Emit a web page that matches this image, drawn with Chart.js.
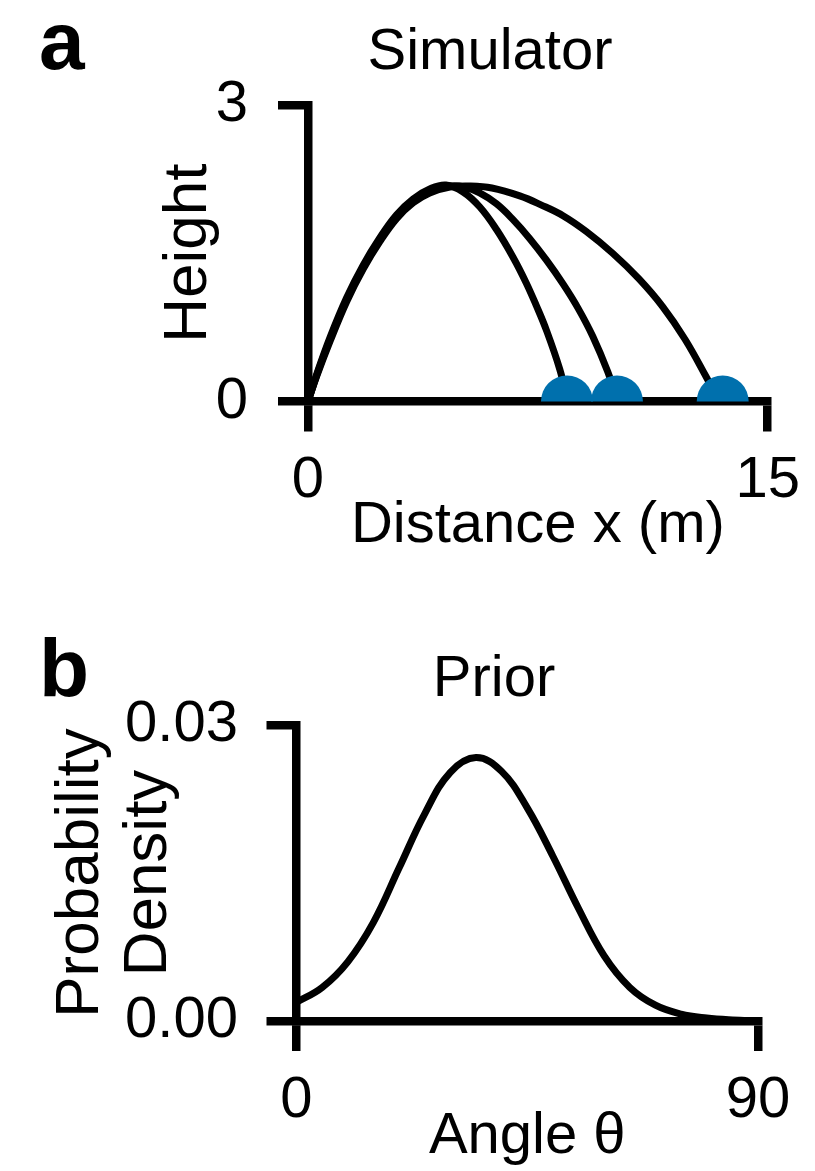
<!DOCTYPE html>
<html>
<head>
<meta charset="utf-8">
<script src="https://cdn.jsdelivr.net/npm/chart.js@4.4.1/dist/chart.umd.min.js"></script>
<style>
  html, body { margin: 0; padding: 0; background: #fff; overflow: hidden; }
  body { width: 815px; height: 1171px; position: relative; font-family: "Liberation Sans", Arial, sans-serif; }
  .box { position: absolute; left: 0; width: 815px; }
  #boxA { top: 0; height: 590px; }
  #boxB { top: 590px; height: 581px; }
  .label { position: absolute; line-height: 1; white-space: nowrap; color: #000; }
  .panel { font-weight: bold; font-size: 82px; }
  .title { font-size: 58px; text-align: center; width: 400px; }
</style>
</head>
<body>
<div class="box" id="boxA"><canvas id="chartA"></canvas></div>
<div class="box" id="boxB"><canvas id="chartB"></canvas></div>
<div class="label panel" style="left:39px; top:0px;">a</div>
<div class="label title" style="left:290px; top:20px;">Simulator</div>
<div class="label panel" style="left:39px; top:627px;">b</div>
<div class="label title" style="left:294px; top:647px;">Prior</div>

<script>
// panel a: simulated throws, distance x (m) vs height
const throw1X = [0, 0.3, 0.72, 1.26, 1.8, 2.35, 2.89, 3.43, 3.97, 4.5, 5.06, 5.6, 6.15, 6.69, 7.12, 7.45, 7.78, 8.21, 8.48];
const throw1Y = [0, 0.29, 0.65, 1.05, 1.38, 1.66, 1.89, 2.05, 2.15, 2.19, 2.12, 1.97, 1.74, 1.46, 1.2, 0.97, 0.72, 0.33, 0];

const throw2X = [0, 0.3, 0.72, 1.26, 1.8, 2.35, 2.89, 3.43, 3.97, 4.63, 5.1, 5.6, 6.15, 6.69, 7.23, 7.78, 8.32, 8.8, 9.29, 9.78, 10.1];
const throw2Y = [0, 0.28, 0.63, 1.03, 1.36, 1.64, 1.87, 2.03, 2.13, 2.18, 2.17, 2.11, 2.0, 1.84, 1.65, 1.43, 1.19, 0.95, 0.66, 0.3, 0];

const throw3X = [0, 0.3, 0.72, 1.26, 1.8, 2.35, 2.89, 3.43, 3.97, 4.63, 5.3, 6.0, 6.91, 7.6, 8.32, 9.08, 9.94, 10.8, 11.57, 12.3, 12.99, 13.42];
const throw3Y = [0, 0.27, 0.61, 1.01, 1.34, 1.62, 1.85, 2.01, 2.11, 2.17, 2.18, 2.16, 2.08, 1.99, 1.88, 1.72, 1.5, 1.24, 0.96, 0.63, 0.25, 0];

// landing spots
const landX = [8.45, 10.08, 13.53];
const landY = [0, 0, 0];

// panel b: prior over angle
const angle = [0, 5, 10, 15, 20, 25, 30, 35, 40, 45, 50, 55, 60, 65, 70, 75, 80, 85, 90];
const density = [0.0019, 0.0034, 0.006, 0.01, 0.0155, 0.021, 0.0252, 0.0267, 0.0253, 0.0216, 0.0167, 0.0114, 0.0066, 0.0034, 0.0016, 0.0007, 0.0003, 0.0001, 0];

Chart.defaults.font.family = '"Liberation Sans", Arial, Helvetica, sans-serif';
Chart.defaults.font.size = 58;
Chart.defaults.color = '#000';

const toPoints = (xs, ys) => xs.map((x, i) => ({ x: x, y: ys[i] }));

function curve(xs, ys) {
    return {
        data: toPoints(xs, ys),
        showLine: true,
        borderColor: '#000',
        borderWidth: 7,
        pointRadius: 0,
        tension: 0.4
    };
}

function axisLook() {
    return {
        z: 1,
        border: { display: true, color: '#000', width: 8.5 },
        grid: {
            drawOnChartArea: false,
            drawTicks: true,
            tickLength: 30,
            tickWidth: 8.5,
            tickColor: '#000',
            color: '#000',
            lineWidth: 8.5
        }
    };
}

const baseOptions = {
    responsive: true,
    maintainAspectRatio: false,
    animation: false,
    events: [],
    plugins: { legend: { display: false }, tooltip: { enabled: false } }
};

new Chart(document.getElementById('chartA'), {
    type: 'scatter',
    data: {
        datasets: [
            {
                data: toPoints(landX, landY),
                pointRadius: 26,
                pointHoverRadius: 26,
                backgroundColor: '#0070ad',
                borderWidth: 0,
                clip: { left: 40, right: 40, top: 40, bottom: 0 }
            },
            curve(throw1X, throw1Y),
            curve(throw2X, throw2Y),
            curve(throw3X, throw3Y)
        ]
    },
    options: {
        ...baseOptions,
        layout: { padding: { top: 105, right: 46.5, bottom: 0, left: 0 } },
        scales: {
            x: {
                ...axisLook(),
                type: 'linear',
                min: 0,
                max: 15,
                ticks: { stepSize: 15, padding: 15, maxRotation: 0, autoSkip: false },
                title: { display: true, text: 'Distance x (m)', padding: { top: 0, bottom: 30 }, font: { size: 58, lineHeight: '68px' } },
                afterFit: (s) => { s.height = 188.5; }
            },
            y: {
                ...axisLook(),
                min: 0,
                max: 3,
                ticks: { stepSize: 3, padding: 30 },
                title: { display: true, text: 'Height', padding: { top: 155, bottom: 0 }, font: { size: 62, lineHeight: '68px' } },
                afterFit: (s) => { s.width = 308; }
            }
        }
    }
});

new Chart(document.getElementById('chartB'), {
    type: 'scatter',
    data: {
        datasets: [curve(angle, density)]
    },
    options: {
        ...baseOptions,
        layout: { padding: { top: 135, right: 57, bottom: 0, left: 0 } },
        scales: {
            x: {
                ...axisLook(),
                type: 'linear',
                min: 0,
                max: 90,
                ticks: { stepSize: 90, padding: 15, maxRotation: 0, autoSkip: false },
                title: { display: true, text: 'Angle θ', padding: { top: 0, bottom: 0 }, font: { size: 58, lineHeight: '68px' } },
                afterFit: (s) => { s.height = 150; }
            },
            y: {
                ...axisLook(),
                min: 0,
                max: 0.03,
                ticks: { stepSize: 0.03, padding: 28.5, callback: (v) => Number(v).toFixed(2) },
                title: { display: true, text: ['Probability', 'Density'], padding: { top: 47, bottom: 0 }, font: { size: 62, lineHeight: '68px' } },
                afterFit: (s) => { s.width = 296.5; }
            }
        }
    }
});
</script>
</body>
</html>
